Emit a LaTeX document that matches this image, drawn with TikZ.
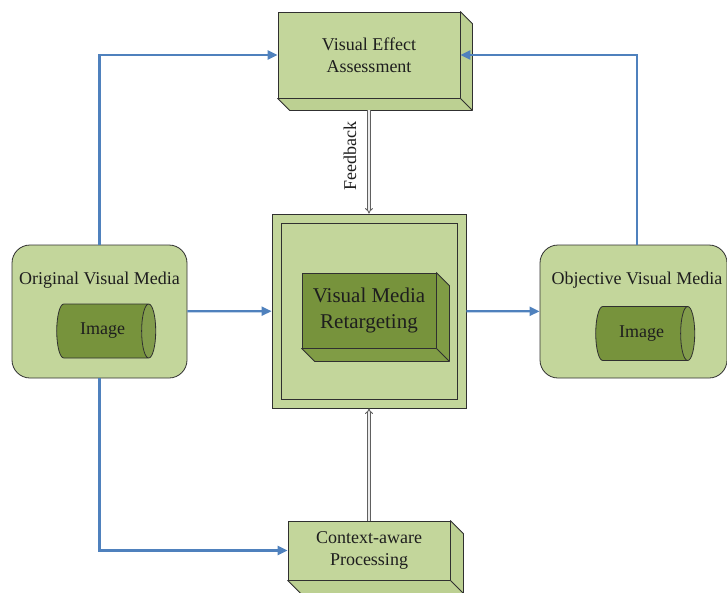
\documentclass[tikz,border=0pt]{standalone}
\usepackage{fontspec}
\setmainfont{Liberation Serif}
\usetikzlibrary{shapes.geometric,arrows.meta,calc}
\definecolor{lightg}{HTML}{C3D69B}
\definecolor{lightside}{HTML}{BCD092}
\definecolor{darkg}{HTML}{77933C}
\definecolor{darkside}{HTML}{809C45}
\definecolor{arrblue}{HTML}{4F81BD}
\definecolor{txt}{HTML}{1E1E1E}
\definecolor{edge}{HTML}{303030}
\tikzset{
  lbox/.style={draw=edge, line width=0.8pt, fill=lightg, text=txt, align=center, inner sep=0pt,
    font=\fontsize{18}{22}\selectfont},
  dbox/.style={draw=edge, line width=0.8pt, fill=darkg, text=txt, align=center, inner sep=0pt,
    font=\fontsize{21}{26}\selectfont},
  media/.style={draw=edge, line width=0.8pt, fill=lightg, rounded corners=18pt},
  cyl/.style={cylinder, draw=edge, line width=0.8pt, cylinder uses custom fill,
    cylinder body fill=darkg, cylinder end fill=darkg!92!white, shape aspect=0.9,
    minimum height=99pt, minimum width=54pt, inner sep=0pt, text=txt,
    font=\fontsize{18}{22}\selectfont},
  arr/.style={draw=arrblue, line width=2.2pt, -{Triangle[length=10pt,width=9pt]}},
  dbl/.style={draw=gray!75!black, double=gray!15, double distance=1.8pt, line width=0.9pt},
  lbl/.style={text=txt, font=\fontsize{18}{22}\selectfont}
}
\begin{document}
\begin{tikzpicture}[x=1pt,y=-1pt]
\useasboundingbox (0,0) rectangle (727,592);
% media boxes
\node[media, minimum width=175pt, minimum height=133pt] (orig) at (99.5,311.5) {};
\node[lbl] (origt) at (99.5,280) {Original Visual Media};
\node[cyl] (origc) at (102.5,331) {Image};
\node[media, minimum width=187pt, minimum height=133pt] (obj) at (633.5,311.5) {};
\node[lbl] (objt) at (637,280) {Objective Visual Media};
\node[cyl] (objc) at (641.5,333.5) {Image};
% centre
\node[lbox, minimum width=194pt, minimum height=194pt] (outer) at (369,311) {};
\node[draw=edge, line width=0.8pt, minimum width=176pt, minimum height=176pt] (inner) at (369,311) {};
\node[dbox, minimum width=134pt, minimum height=75pt] (vmr) at (369,310.5) {Visual Media\\Retargeting};
% top and bottom boxes
\node[lbox, minimum width=182pt, minimum height=86pt] (vea) at (369,55) {Visual Effect\\Assessment};
\node[lbox, minimum width=162pt, minimum height=59pt] (ctx) at (369,550.5) {Context-aware\\Processing};
% extrusions
\foreach \n/\d/\c in {vea/12/lightside, ctx/13/lightside, vmr/13/darkside}{
  \filldraw[draw=edge, line width=0.8pt, fill=\c, line join=round]
    (\n.north east) -- ++(\d,\d) -- ($(\n.south east)+(\d,\d)$) -- ($(\n.south west)+(\d,\d)$)
    -- (\n.south west) -- (\n.south east) -- cycle;
  \draw[edge, line width=0.8pt] (\n.south east) -- ++(\d,\d);
}
% blue connectors
\draw[arr] (orig.north) |- (vea.west);
\draw[arr] ($(obj.north)+(3.5,0)$) |- (vea.east);
\draw[arr] (orig.south) |- (ctx.west);
\draw[arr] (orig) -- (outer);
\draw[arr] (outer) -- (obj);
% feedback connectors
\coordinate (fb) at ($(vea.south)+(0,12)$);
\draw[dbl, -{Implies}] (fb) -- (outer.north);
\draw[dbl, -{Implies}] (ctx.north) -- (outer.south);
\node[lbl, rotate=90] (fbl) at (350,156) {Feedback};
\end{tikzpicture}
\end{document}
